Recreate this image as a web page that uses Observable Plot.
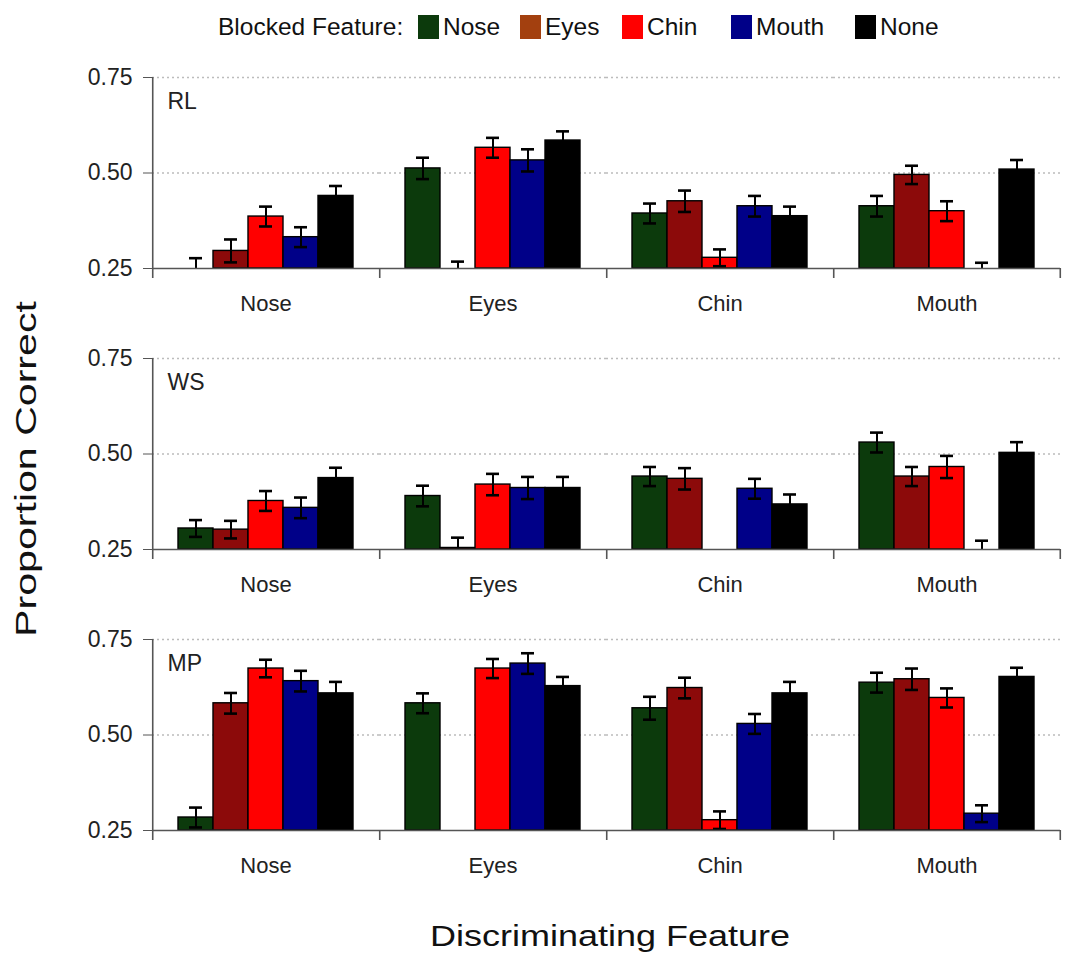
<!DOCTYPE html>
<html>
<head>
<meta charset="utf-8">
<script src="https://cdn.jsdelivr.net/npm/d3@7"></script>
<script src="https://cdn.jsdelivr.net/npm/@observablehq/plot@0.6"></script>
<style>
  body { margin: 0; background: #fff; font-family: "Liberation Sans", Arial, sans-serif; color: #111; }
  #wrap { position: relative; width: 1071px; height: 966px; overflow: hidden; }
  #chart { position: absolute; left: 0; top: 50px; }
  .leg { position: absolute; font-size: 24.5px; line-height: 1; white-space: nowrap; color: #111; }
  .sw { position: absolute; width: 21px; height: 24px; }
  #ylabel { position: absolute; left: 26px; top: 469px; font-size: 30px; white-space: nowrap; line-height: 1;
            transform: translate(-50%, -50%) rotate(-90deg) scaleX(1.37); }
  #xlabel { position: absolute; left: 610px; top: 936px; font-size: 30px; white-space: nowrap; line-height: 1;
            transform: translate(-50%, -50%) scaleX(1.2); }
</style>
</head>
<body>
<div id="wrap">
  <div id="legend"></div>
  <div id="chart"></div>
  <div id="ylabel">Proportion Correct</div>
  <div id="xlabel">Discriminating Feature</div>
</div>
<script>
// ---------- data ----------
const panels = ["RL", "WS", "MP"];
const discFeatures = ["Nose", "Eyes", "Chin", "Mouth"];
const blockedFeatures = ["Nose", "Eyes", "Chin", "Mouth", "None"];
const yTicks = [0.25, 0.50, 0.75];

// values[discriminating feature][blocked feature]
const rlValues = [
  [0.250, 0.296, 0.386, 0.332, 0.440],
  [0.512, 0.250, 0.566, 0.533, 0.585],
  [0.394, 0.426, 0.278, 0.413, 0.387],
  [0.413, 0.495, 0.400, 0.250, 0.509]
];
const rlErrors = [
  [0.027, 0.030, 0.026, 0.026, 0.026],
  [0.028, 0.018, 0.026, 0.029, 0.024],
  [0.026, 0.028, 0.022, 0.027, 0.025],
  [0.027, 0.024, 0.026, 0.015, 0.025]
];
const wsValues = [
  [0.305, 0.302, 0.377, 0.359, 0.437],
  [0.390, 0.254, 0.420, 0.411, 0.411],
  [0.441, 0.435, null, 0.409, 0.368],
  [0.530, 0.441, 0.466, 0.250, 0.503]
];
const wsErrors = [
  [0.022, 0.023, 0.026, 0.027, 0.027],
  [0.027, 0.027, 0.028, 0.029, 0.029],
  [0.025, 0.028, null, 0.026, 0.026],
  [0.026, 0.025, 0.029, 0.023, 0.028]
];
const mpValues = [
  [0.284, 0.583, 0.674, 0.641, 0.609],
  [0.583, null, 0.674, 0.687, 0.628],
  [0.570, 0.623, 0.277, 0.529, 0.609],
  [0.637, 0.646, 0.597, 0.294, 0.652]
];
const mpErrors = [
  [0.026, 0.027, 0.023, 0.027, 0.030],
  [0.026, null, 0.025, 0.027, 0.024],
  [0.030, 0.027, 0.023, 0.026, 0.030],
  [0.026, 0.028, 0.025, 0.022, 0.024]
];

// ---------- styles ----------
const barColors = ["#0c3a0c", "#8c0a0a", "#ff0000", "#000088", "#000000"];
const legendColors = ["#0c3a0c", "#a3400f", "#ff0000", "#000088", "#000000"];

// ---------- build table ----------
const valueSets = [rlValues, wsValues, mpValues];
const errorSets = [rlErrors, wsErrors, mpErrors];
const rows = panels.flatMap((p, pi) =>
  discFeatures.flatMap((d, di) =>
    blockedFeatures.map((b, bi) => ({
      panel: p, disc: d, blocked: b,
      value: valueSets[pi][di][bi], err: errorSets[pi][di][bi]
    }))
  )
).filter(r => r.value != null);
const cells = panels.flatMap(p => discFeatures.map(d => ({panel: p, disc: d})));

// ---------- layout ----------
const W = 1071, H = 842;
const mL = 151, mR = 11, mT = 26, mB = 60;
const outerPad = 0.73;
const facetW = (W - mL - mR) / discFeatures.length;
const step = facetW / (blockedFeatures.length + 2 * outerPad);
const edgeOffset = (0.5 + outerPad) * step; // band centre -> facet edge
const yMin = yTicks[0], yMax = yTicks[yTicks.length - 1];

const chart = Plot.plot({
  width: W, height: H,
  marginLeft: mL, marginRight: mR, marginTop: mT, marginBottom: mB,
  style: {fontFamily: "Liberation Sans, Arial, sans-serif", background: "#fff", color: "#111", overflow: "visible"},
  fx: {domain: discFeatures, paddingInner: 0, paddingOuter: 0, axis: null, label: null},
  fy: {domain: panels, paddingInner: 0.319, paddingOuter: 0, axis: null, label: null},
  x: {domain: blockedFeatures, paddingInner: 0, paddingOuter: outerPad, axis: null, label: null},
  y: {domain: [yMin, yMax], label: null},
  color: {domain: blockedFeatures, range: barColors},
  marks: [
    Plot.ruleY(yTicks.slice(1), {stroke: "#bcbcbc", strokeWidth: 1.3, strokeDasharray: "2,3"}),
    Plot.barY(rows, {fx: "disc", fy: "panel", x: "blocked", y1: yMin, y2: "value",
      fill: "blocked", stroke: "#000", strokeWidth: 1.4}),
    Plot.ruleX(rows, {fx: "disc", fy: "panel", x: "blocked",
      y1: d => d.value - d.err, y2: d => d.value + d.err,
      stroke: "#000", strokeWidth: 2, clip: true}),
    Plot.tickY(rows, {fx: "disc", fy: "panel", x: "blocked", y: d => d.value + d.err,
      stroke: "#000", strokeWidth: 2.6, insetLeft: 11, insetRight: 11, clip: true}),
    Plot.tickY(rows, {fx: "disc", fy: "panel", x: "blocked", y: d => d.value - d.err,
      stroke: "#000", strokeWidth: 2.6, insetLeft: 11, insetRight: 11, clip: true}),
    Plot.ruleY([yMin], {stroke: "#555", strokeWidth: 1.6}),
    // vertical axis line (first group) and group separator ticks
    Plot.ruleX(discFeatures, {fx: d => d, x: () => blockedFeatures[0],
      y1: d => d === discFeatures[0] ? yMax : yMin, y2: yMin,
      insetBottom: -10, dx: -edgeOffset, stroke: "#555", strokeWidth: 1.6}),
    Plot.ruleX([discFeatures[discFeatures.length - 1]], {fx: d => d,
      x: () => blockedFeatures[blockedFeatures.length - 1],
      y1: yMin, y2: yMin, insetBottom: -10, dx: edgeOffset, stroke: "#555", strokeWidth: 1.6}),
    Plot.axisY({ticks: yTicks, tickFormat: d3.format(".2f"), tickSize: 9, tickPadding: 11,
      fontSize: 23, stroke: "#555", fill: "#222", label: null}),
    Plot.text(cells, {fx: "disc", fy: "panel", text: "disc", frameAnchor: "bottom",
      dy: 42, fontSize: 22, fill: "#222"}),
    Plot.text(panels, {fy: d => d, fx: () => discFeatures[0], text: d => d,
      frameAnchor: "top-left", textAnchor: "start", lineAnchor: "top",
      dx: 15, dy: 15, fontSize: 23, fill: "#222"})
  ]
});
document.getElementById("chart").appendChild(chart);

// ---------- legend ----------
const legend = document.getElementById("legend");
const legendTitleX = 218;
const swatchX = [418, 520, 622, 731, 855];
const legendMidY = 27;
const title = document.createElement("div");
title.className = "leg";
title.textContent = "Blocked Feature:";
title.style.left = legendTitleX + "px";
title.style.top = (legendMidY - 12) + "px";
legend.appendChild(title);
blockedFeatures.forEach((b, i) => {
  const sw = document.createElement("div");
  sw.className = "sw";
  sw.style.left = swatchX[i] + "px";
  sw.style.top = (legendMidY - 12) + "px";
  sw.style.background = legendColors[i];
  legend.appendChild(sw);
  const lab = document.createElement("div");
  lab.className = "leg";
  lab.textContent = b;
  lab.style.left = (swatchX[i] + 25) + "px";
  lab.style.top = (legendMidY - 12) + "px";
  legend.appendChild(lab);
});
</script>
</body>
</html>
